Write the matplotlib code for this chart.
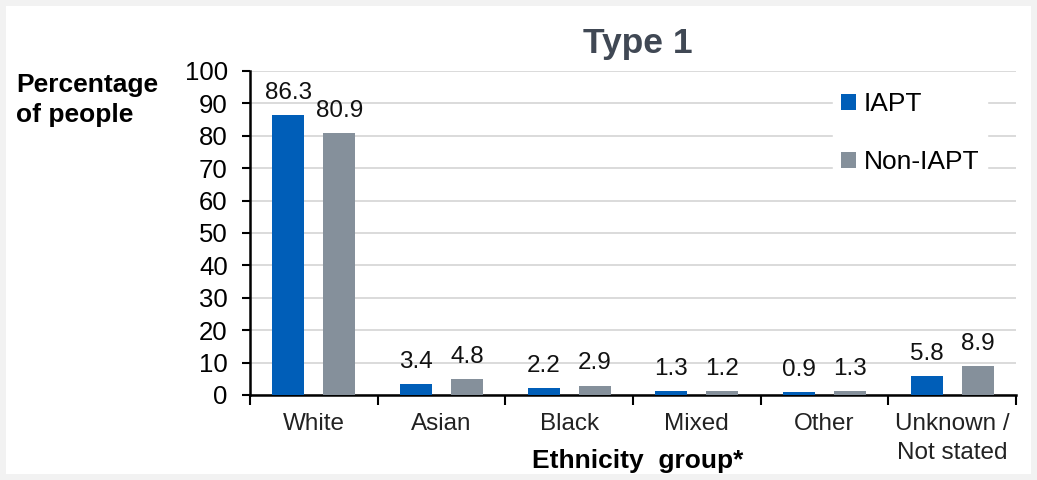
import matplotlib
matplotlib.use("Agg")
import matplotlib.pyplot as plt
import numpy as np
from matplotlib.patches import Rectangle

categories = ["White", "Asian", "Black", "Mixed", "Other", "Unknown /\nNot stated"]
iapt = [86.3, 3.4, 2.2, 1.3, 0.9, 5.8]
non_iapt = [80.9, 4.8, 2.9, 1.2, 1.3, 8.9]
series_names = ["IAPT", "Non-IAPT"]
yticks = [0, 10, 20, 30, 40, 50, 60, 70, 80, 90, 100]

plt.rcParams['font.family'] = ['Liberation Sans', 'DejaVu Sans']

fig = plt.figure(figsize=(10.37, 4.8), dpi=100)
fig.patch.set_facecolor("#f2f2f2")
card = Rectangle((6/1037, 6/480), 1 - 12/1037, 1 - 12/480,
                 transform=fig.transFigure, facecolor="white",
                 edgecolor="none", zorder=-10)
fig.patches.append(card)

ax = fig.add_axes([250/1037, 1 - 395/480, (1016 - 250)/1037, (395 - 71)/480])
ax.set_zorder(1)
ax.set_facecolor("white")

x = np.arange(len(categories))
w = 0.25
c1, c2 = "#005EB8", "#85909B"
b1 = ax.bar(x - 0.2, iapt, w, color=c1, label=series_names[0], zorder=3)
b2 = ax.bar(x + 0.2, non_iapt, w, color=c2, label=series_names[1], zorder=3)

for bars, vals in ((b1, iapt), (b2, non_iapt)):
    for r, v in zip(bars, vals):
        ax.annotate(f"{v:.1f}", (r.get_x() + r.get_width() / 2, v),
                    xytext=(0, 8), textcoords="offset points",
                    ha="center", va="bottom", fontsize=17.5, color="#111111")

ax.set_xlim(-0.5, len(categories) - 0.5)
ax.set_ylim(0, 100)
ax.set_yticks(yticks)
ax.tick_params(axis="y", labelsize=18.5, length=6, width=1.5, pad=10, colors="black")
ax.set_xticks(np.arange(len(categories) + 1) - 0.5)
ax.set_xticklabels([])
ax.set_xticks(x, minor=True)
ax.set_xticklabels(categories, minor=True, fontsize=17.5, color="#222222",
                   linespacing=1.4)
ax.tick_params(axis="x", which="major", length=7, width=1.5)
ax.tick_params(axis="x", which="minor", length=0, pad=13)

ax.yaxis.grid(True, color="#d4d4d4", linewidth=1.2, zorder=0)
ax.set_axisbelow(True)
for s in ("top", "right"):
    ax.spines[s].set_visible(False)
for s in ("left", "bottom"):
    ax.spines[s].set_linewidth(1.8)
    ax.spines[s].set_color("black")

leg = ax.legend(loc="upper right", bbox_to_anchor=((987 - 250) / 766, (395 - 84) / 324),
                borderaxespad=0, frameon=True,
                fontsize=19, handlelength=0.55, handleheight=0.55, handletextpad=0.3,
                labelspacing=1.3, borderpad=0.3, fancybox=False)
leg.get_frame().set_edgecolor("white")
leg.get_frame().set_facecolor("white")
leg.get_frame().set_alpha(1)

fig.text(638/1037, 1 - 43/480, "Type 1", ha="center", va="center",
         fontsize=25.5, fontweight="bold", color="#404854")
fig.text(16/1037, 1 - 100/480, "Percentage\nof people", ha="left", va="center",
         fontsize=19, fontweight="bold", linespacing=1.35)
fig.text(638/1037, 1 - 461/480, "Ethnicity  group*", ha="center", va="center",
         fontsize=19, fontweight="bold")

fig.savefig("out.png", dpi=100, facecolor=fig.get_facecolor())
